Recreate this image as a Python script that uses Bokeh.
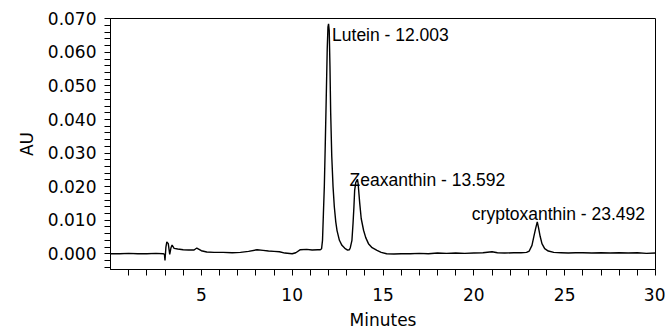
from bokeh.plotting import figure
from bokeh.models import FixedTicker, NumeralTickFormatter, Range1d, ColumnDataSource
from bokeh.core.properties import value
from bokeh.embed import file_html
from bokeh.resources import INLINE

# ---- data ----
time_min = [
    0.0, 0.5, 1.0, 1.5, 2.0, 2.5, 2.9, 2.97, 3.0, 3.05, 3.1, 3.18, 3.26, 3.33, 3.39,
    3.5, 3.7, 4.0, 4.3, 4.6, 4.75, 4.85, 5.0, 5.3, 5.7, 6.2, 6.7, 7.15, 7.6, 8.07,
    8.4, 8.7, 9.0, 9.3, 9.6, 10.0, 10.2, 10.45, 10.8, 11.1, 11.4, 11.55, 11.62, 11.67,
    11.72, 11.77, 11.82, 11.87, 11.93, 11.97, 12.003, 12.04, 12.08, 12.12, 12.18,
    12.25, 12.32, 12.4, 12.47, 12.6, 12.74, 12.9, 13.05, 13.15, 13.2, 13.29, 13.35,
    13.4, 13.44, 13.5, 13.592, 13.63, 13.66, 13.72, 13.8, 13.93, 14.05, 14.2, 14.4,
    14.67, 14.9, 15.2, 15.6, 16.0, 16.5, 17.0, 17.5, 18.0, 18.5, 19.0, 19.5, 20.0,
    20.5, 21.0, 21.3, 21.7, 22.2, 22.6, 22.9, 23.05, 23.2, 23.3, 23.4, 23.492, 23.56,
    23.65, 23.75, 23.9, 24.1, 24.4, 24.8, 25.2, 25.6, 26.0, 26.5, 27.0, 27.5, 28.0,
    28.5, 29.0, 29.5, 30.0,
]
absorbance_au = [
    0.0000, 0.0000, 0.0001, 0.0000, 0.0000, 0.0001, 0.0000, -0.0002, -0.0020, 0.0020,
    0.0035, 0.0030, -0.0002, 0.0018, 0.0026, 0.0016, 0.0014, 0.0012, 0.0011, 0.0011,
    0.0017, 0.0014, 0.0009, 0.0005, 0.0004, 0.0004, 0.0003, 0.0004, 0.0007, 0.0012,
    0.0010, 0.0008, 0.0007, 0.0006, 0.0002, 0.0000, 0.0003, 0.0012, 0.0013, 0.0011,
    0.0012, 0.0012, 0.0015, 0.0040, 0.0120, 0.0200, 0.0320, 0.0450, 0.0610, 0.0675,
    0.0685, 0.0665, 0.0560, 0.0420, 0.0290, 0.0200, 0.0140, 0.0095, 0.0069, 0.0040,
    0.0025, 0.0016, 0.0011, 0.0012, 0.0018, 0.0040, 0.0090, 0.0140, 0.0189, 0.0212,
    0.0222, 0.0210, 0.0189, 0.0150, 0.0105, 0.0070, 0.0048, 0.0030, 0.0018, 0.0010,
    0.0004, 0.0000, -0.0001, 0.0000, 0.0000, 0.0001, 0.0000, 0.0002, 0.0001, 0.0002,
    0.0001, 0.0002, 0.0003, 0.0006, 0.0003, 0.0002, 0.0003, 0.0003, 0.0004, 0.0008,
    0.0025, 0.0050, 0.0075, 0.0095, 0.0078, 0.0052, 0.0030, 0.0015, 0.0008, 0.0004,
    0.0003, 0.0002, 0.0003, 0.0003, 0.0002, 0.0003, 0.0002, 0.0003, 0.0002, 0.0003,
    0.0001, 0.0002,
]
peak_names = ["Lutein", "Zeaxanthin", "cryptoxanthin"]
peak_rt = [12.003, 13.592, 23.492]
peak_au = [0.0685, 0.0222, 0.0095]

x_major_ticks = [5, 10, 15, 20, 25, 30]
x_all_ticks = list(range(1, 31))
y_major_ticks = [0.0, 0.01, 0.02, 0.03, 0.04, 0.05, 0.06, 0.07]
y_all_ticks = [round(-0.004 + 0.002 * i, 3) for i in range(38)]

# ---- layout / style settings ----
X_START, X_END = 0, 30
Y_START, Y_END = -0.0047, 0.0701
label_dx = [3.5, -7.8, -65.4]
label_dy = [10.7, 0.5, -8.0]
AXIS_FONT = "DejaVu Sans"
AXIS_SIZE = "17px"
ANN_FONT = "Liberation Sans"

p = figure(
    width=665, height=332, output_backend="svg", toolbar_location=None,
    x_range=Range1d(X_START, X_END), y_range=Range1d(Y_START, Y_END),
    min_border_left=110, min_border_right=10, min_border_top=18, min_border_bottom=62,
)
p.outline_line_color = "black"
p.outline_line_width = 1
p.xgrid.visible = False
p.ygrid.visible = False

p.line(time_min, absorbance_au, line_color="black", line_width=1.4)

labels = [f"{n} - {rt:.3f}" for n, rt in zip(peak_names, peak_rt)]
src = ColumnDataSource(dict(x=peak_rt, y=peak_au, t=labels, dx=label_dx, dy=label_dy))
p.text(x="x", y="y", text="t", x_offset="dx", y_offset="dy", source=src,
       text_font=value(ANN_FONT), text_font_size="17.5px", text_color="black",
       text_align="left", text_baseline="alphabetic")

# axes: every tick drawn, only the major ones labelled
xa = p.xaxis[0]
xa.ticker = FixedTicker(ticks=x_all_ticks)
xa.formatter = NumeralTickFormatter(format="0")
xa.major_label_overrides = {t: " " for t in x_all_ticks if t not in x_major_ticks}
xa.axis_label = "Minutes"
ya = p.yaxis[0]
ya.ticker = FixedTicker(ticks=y_all_ticks)
ya.formatter = NumeralTickFormatter(format="0.000")
ya.major_label_overrides = {t: " " for t in y_all_ticks if t not in y_major_ticks}
ya.axis_label = "AU"

for ax in (xa, ya):
    ax.axis_line_color = "black"
    ax.major_tick_line_color = "black"
    ax.minor_tick_line_color = None
    ax.major_tick_in = 0
    ax.major_tick_out = 6
    ax.minor_tick_out = 0
    ax.minor_tick_in = 0
    ax.major_label_text_font = AXIS_FONT
    ax.major_label_text_font_size = AXIS_SIZE
    ax.major_label_text_color = "black"
    ax.axis_label_text_font = AXIS_FONT
    ax.axis_label_text_font_size = AXIS_SIZE
    ax.axis_label_text_font_style = "normal"
    ax.axis_label_text_color = "black"

xa.major_label_standoff = 9
xa.axis_label_standoff = 2
ya.major_label_standoff = 8
ya.axis_label_standoff = 8

open("out.html", "w").write(file_html(p, INLINE))
